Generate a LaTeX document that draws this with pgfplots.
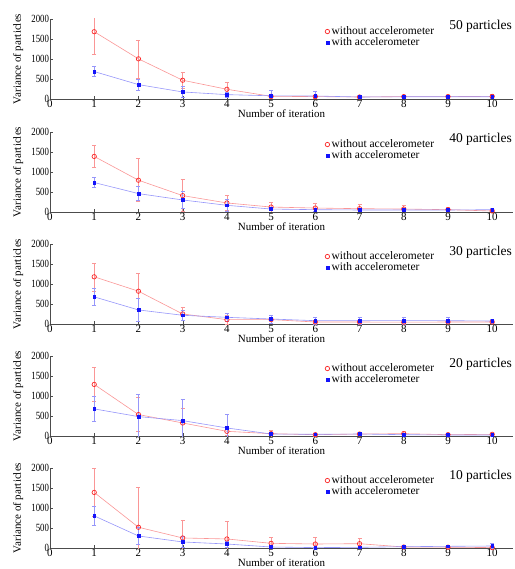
\documentclass[border=0pt]{standalone}
\usepackage{fontspec}
\setmainfont{Liberation Serif}
\usepackage{pgfplots}
\usepackage{pgfplotstable}
\pgfplotsset{compat=1.18}

\definecolor{redline}{RGB}{250,150,150}
\definecolor{blueline}{RGB}{150,150,250}
\definecolor{redmark}{RGB}{250,40,40}
\definecolor{bluemark}{RGB}{20,20,250}

% x, without (r, re), with (b, be)
\pgfplotstableread{
x r re b be
1 1682 560 686 125
2 1004 475 360 135
3 469 190 176 135
4 243 165 109 60
5 67 40 80 125
6 60 40 75 110
7 50 25 50 20
8 60 25 55 30
9 60 25 55 20
10 65 40 55 30
}\tblfifty
\pgfplotstableread{
x r re b be
1 1389 275 736 130
2 795 540 460 170
3 410 395 301 215
4 226 190 167 140
5 124 125 74 40
6 99 115 58 30
7 83 115 50 25
8 74 105 50 25
9 58 70 50 25
10 25 20 58 30
}\tblforty
\pgfplotstableread{
x r re b be
1 1180 350 678 220
2 820 450 352 290
3 251 165 218 120
4 109 110 167 110
5 110 100 125 100
6 50 30 83 90
7 50 30 83 85
8 45 30 83 90
9 50 30 83 75
10 50 30 75 50
}\tbltwenty
\pgfplotstableread{
x r re b be
1 1289 420 678 305
2 536 430 485 560
3 326 375 385 535
4 117 100 201 335
5 58 80 50 30
6 33 30 42 25
7 50 30 50 30
8 58 60 33 30
9 33 30 25 20
10 42 30 25 20
}\tbltwentyb
\pgfplotstableread{
x r re b be
1 1389 600 803 235
2 519 1000 301 215
3 251 450 151 140
4 226 445 100 70
5 117 160 25 20
6 100 160 10 15
7 108 140 17 15
8 25 20 33 20
9 20 20 42 30
10 10 15 50 60
}\tblten

\pgfplotsset{
  panel/.style={
    scale only axis, width=463pt, height=80pt,
    xmin=0, xmax=10.47, ymin=0, ymax=2000,
    axis lines=left, axis line style={black!70,-},
    xtick={0,...,10}, ytick={0,500,1000,1500,2000},
    tick align=inside, major tick length=3pt, tick style={black!70},
    /pgf/number format/assume math mode=true,
    /pgf/number format/1000 sep={},
    scaled y ticks=false,
    tick label style={font=\fontsize{11}{11}\selectfont},
    yticklabel style={xscale=0.8, inner sep=1pt},
    xticklabel style={inner sep=1pt},
    xlabel={Number of iteration},
    ylabel={Variance of particles},
    every axis x label/.style={at={(axis description cs:0.5,0)}, anchor=base, yshift=-18.5pt, font=\fontsize{11}{11}\selectfont},
    every axis y label/.style={at={(axis description cs:-0.069,0.5)}, anchor=center, rotate=90, font=\fontsize{11}{11}\selectfont},
    legend style={draw=none, fill=none, at={(rel axis cs:0.594,0.93)}, anchor=north west,
      font=\fontsize{11.5}{11.5}\selectfont, row sep=-2.5pt, inner sep=0pt},
    legend cell align=left,
    legend image code/.code={\draw[#1] plot coordinates {(0pt,0pt)};},
  },
  redser/.style={color=redline, line width=0.6pt, mark=o, mark size=2.2pt,
    mark options={draw=redmark, line width=0.7pt, fill=none},
    error bars/.cd, y dir=both, y explicit,
    error bar style={redline, line width=0.6pt},
    error mark options={rotate=90, redline, mark size=2pt, line width=0.6pt}},
  blueser/.style={color=blueline, line width=0.6pt, mark=square*, mark size=1.4pt,
    mark options={draw=bluemark, fill=bluemark},
    error bars/.cd, y dir=both, y explicit,
    error bar style={blueline, line width=0.6pt},
    error mark options={rotate=90, blueline, mark size=2pt, line width=0.6pt}},
}

\newcommand{\panel}[3]{%
  \begin{axis}[panel, at={(0pt,#1)}]
    \addplot[forget plot, redser] table[x=x, y=r, y error=re] {#2};
    \addplot[forget plot, blueser] table[x=x, y=b, y error=be] {#2};
    \addlegendimage{only marks, mark=o, mark size=2.2pt, draw=redmark, line width=0.7pt}
    \addlegendentry{without accelerometer}
    \addlegendimage{only marks, mark=square*, mark size=1.4pt, draw=bluemark, fill=bluemark}
    \addlegendentry{with accelerometer}
    \node[anchor=base east, font=\fontsize{13.5}{13.5}\selectfont, inner sep=0pt]
      at (rel axis cs:0.998,0.8625) {#3};
  \end{axis}}

\begin{document}
\begin{tikzpicture}
\useasboundingbox (-50pt,99pt) rectangle (464pt,-470pt);
\panel{0pt}{\tblfifty}{50 particles}
\panel{-113pt}{\tblforty}{40 particles}
\panel{-225pt}{\tbltwenty}{30 particles}
\panel{-337pt}{\tbltwentyb}{20 particles}
\panel{-449pt}{\tblten}{10 particles}
\end{tikzpicture}
\end{document}
